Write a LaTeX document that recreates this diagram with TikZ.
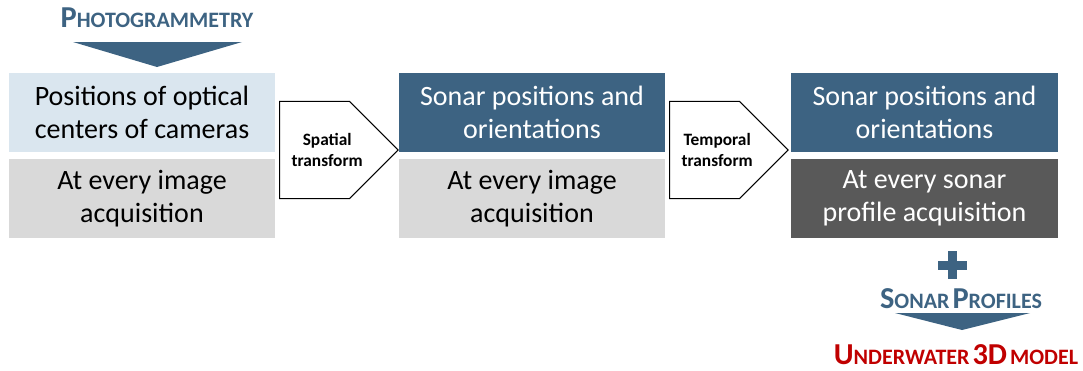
\documentclass[tikz,border=0pt]{standalone}
\usepackage{fontspec}
\setmainfont{Carlito}
\usetikzlibrary{positioning,shapes.symbols}
\definecolor{slate}{HTML}{3D6382}
\definecolor{paleblue}{HTML}{DAE6EF}
\definecolor{palegrey}{HTML}{D9D9D9}
\definecolor{darkgrey}{HTML}{595959}
\definecolor{deepred}{HTML}{C00000}
\newcommand{\capsmall}[2]{{\fontsize{22.8}{26}\selectfont #1}{\fontsize{16.5}{19}\selectfont #2}}
\begin{document}
\begin{tikzpicture}[x=0.75pt, y=-0.75pt,
    box/.style={fill=#1, minimum width=200pt, minimum height=59pt, inner sep=0pt, align=center, font=\fontsize{21}{25}\selectfont},
    darkbox/.style={box=#1, text=white},
    transform/.style={signal, signal to=east, draw, thick, fill=white, minimum width=89pt, minimum height=73pt, inner sep=0pt, anchor=west,
        label={[align=center, xshift=9.5pt, font=\bfseries\fontsize{13}{15.5}\selectfont]center:#1}},
    heading/.style={font=\bfseries, text=#1, inner sep=0pt}
]
    \useasboundingbox (0,0) rectangle (1083,371);

    % Photogrammetry input
    \node[heading=slate] (photo) at (157,18) {\capsmall{P}{HOTOGRAMMETRY}};
    \fill[slate] (73,42) -- (242,42) -- (157,67) -- cycle;

    % Columns
    \node[box=paleblue] (optic) at (142,112.5) {Positions of optical\\centers of cameras};
    \node[box=palegrey, below=5pt of optic] (imgacq) {At every image\\acquisition};

    \node[darkbox=slate] (sonar) at (532,112.5) {Sonar positions and\\orientations};
    \node[box=palegrey, below=5pt of sonar] (imgacq2) {At every image\\acquisition};

    \node[darkbox=slate] (sonar2) at (924.5,112.5) {Sonar positions and\\orientations};
    \node[darkbox=darkgrey, below=5pt of sonar2] (profacq) {At every sonar\\profile acquisition};

    % Transforms
    \node[transform={Spatial\\transform}] (spatial) at (279,150) {};
    \node[transform={Temporal\\transform}] (temporal) at (669,150) {};

    % Sonar profiles and output
    \fill[slate] (938,261) rectangle (967,270);
    \fill[slate] (948,251) rectangle (957,279);
    \node[heading=slate] (profiles) at (961,299) {\capsmall{S}{ONAR} \capsmall{P}{ROFILES}};
    \fill[slate] (895,313) -- (1030,313) -- (962,330) -- cycle;
    \node[heading=deepred] (model) at (956,355) {\capsmall{U}{NDERWATER} {\fontsize{22.8}{26}\selectfont 3D} \capsmall{}{MODEL}};
\end{tikzpicture}
\end{document}
